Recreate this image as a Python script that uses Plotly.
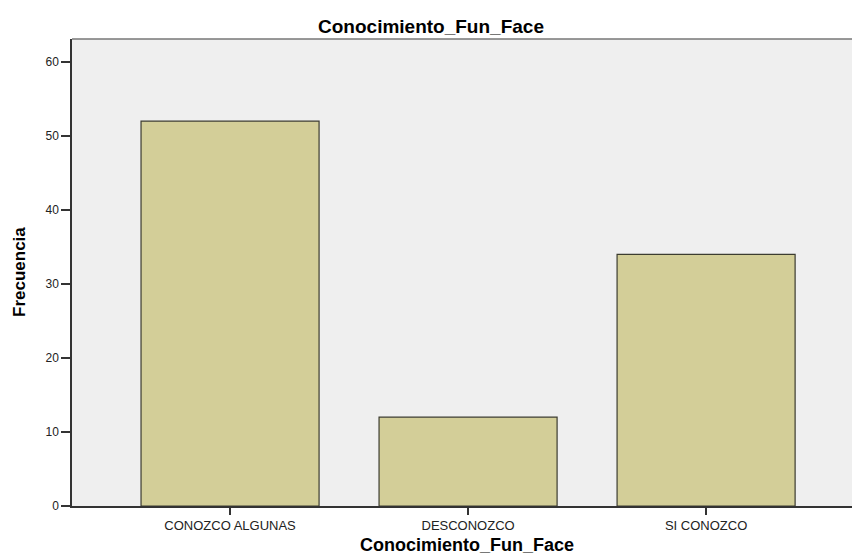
import plotly.graph_objects as go

categories = ["CONOZCO ALGUNAS", "DESCONOZCO", "SI CONOZCO"]
values = [52, 12, 34]
y_ticks = [0, 10, 20, 30, 40, 50, 60]

W, H = 852, 557
L, R, T, B = 72, 0, 39, 51

fig = go.Figure()
fig.add_trace(go.Bar(
    x=[0, 1, 2], y=values, width=0.748,
    marker=dict(color="#D3CE98", line=dict(color="#3C3C30", width=1.2)),
))
fig.update_layout(
    width=W, height=H,
    margin=dict(l=L, r=R, t=T, b=B),
    paper_bgcolor="white", plot_bgcolor="#EFEFEF",
    showlegend=False,
    title=dict(text="<b>Conocimiento_Fun_Face</b>", x=431 / W, xanchor="center",
               y=1 - 26 / H, yanchor="middle",
               font=dict(family="Liberation Sans, Arial", size=19, color="black")),
    font=dict(family="Liberation Sans, Arial", size=12, color="#222222"),
)
fig.update_xaxes(
    range=[-0.664, 2.613], tickvals=[0, 1, 2], ticktext=categories,
    ticks="outside", ticklen=7, tickcolor="#333333", tickwidth=1.5,
    showline=True, linecolor="#333333", linewidth=1.5, showgrid=False, zeroline=False,
    tickfont=dict(size=13, color="#222222"),
)
fig.update_yaxes(
    range=[0, 63.1], tickvals=y_ticks,
    ticks="outside", ticklen=9, tickcolor="#333333", tickwidth=1.5,
    showline=True, linecolor="#333333", linewidth=1.5, showgrid=False, zeroline=False,
    tickfont=dict(size=12, color="#222222"),
)
fig.add_annotation(text="<b>Conocimiento_Fun_Face</b>", xref="paper", yref="paper",
                   x=(467 - L) / (W - L - R), y=(H - B - 545) / (H - T - B),
                   xanchor="center", yanchor="middle", showarrow=False,
                   font=dict(family="Liberation Sans, Arial", size=18, color="black"))
fig.add_annotation(text="<b>Frecuencia</b>", xref="paper", yref="paper",
                   x=(19.5 - L) / (W - L - R), y=0.5, textangle=-90,
                   xanchor="center", yanchor="middle", showarrow=False,
                   font=dict(family="Liberation Sans, Arial", size=17, color="black"))
fig.add_shape(type="line", xref="paper", yref="paper", x0=0, x1=1, y0=1, y1=1,
              line=dict(color="#777777", width=1.5))
fig.write_html("out.html", config={"displayModeBar": False},
               post_script="document.body.style.margin='0px';document.body.style.overflow='hidden';")
